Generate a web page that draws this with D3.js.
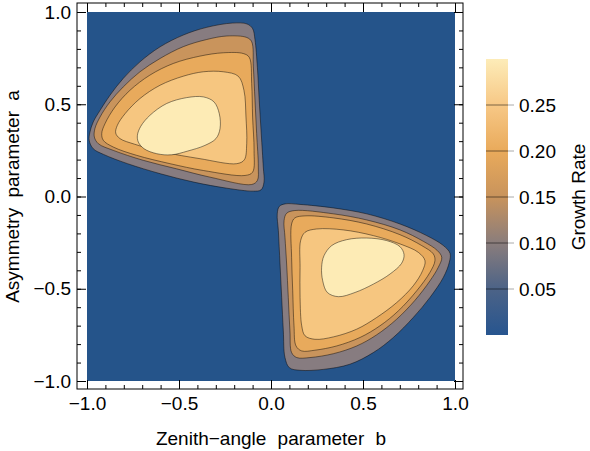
<!DOCTYPE html>
<html>
<head>
<meta charset="utf-8">
<script src="https://cdn.jsdelivr.net/npm/d3@7"></script>
<style>
  body { margin: 0; background: #fff; }
  text { font-family: "Liberation Sans", Arial, sans-serif; fill: #000; }
</style>
</head>
<body>
<div id="chart"></div>
<script>
const levels = [0.05, 0.10, 0.15, 0.20, 0.25];
const bandColors = ["#877c80", "#c9945c", "#e8aa5c", "#f6c680", "#fdebb5"];
const axisTicks = [-1, -0.5, 0, 0.5, 1];
const legendTicks = [0.05, 0.10, 0.15, 0.20, 0.25];
const legendValues = [0, 0.05, 0.10, 0.15, 0.20, 0.25, 0.30];
const legendColors = ["#27558f", "#4c6387", "#8a7d7c", "#c8935c", "#e9aa5b", "#f7c886", "#fdecb8"];

// contour outlines as [b, a]
const upperLeft05 = [[-0.21,0.94],[-0.13,0.935],[-0.10,0.91],[-0.087,0.85],[-0.074,0.70],[-0.064,0.52],[-0.053,0.34],[-0.042,0.16],[-0.038,0.078],[-0.054,0.036],[-0.096,0.029],[-0.24,0.045],[-0.42,0.078],[-0.60,0.123],[-0.78,0.178],[-0.91,0.228],[-0.966,0.259],[-0.988,0.304],[-0.984,0.349],[-0.966,0.404],[-0.929,0.467],[-0.875,0.549],[-0.803,0.64],[-0.712,0.73],[-0.603,0.811],[-0.477,0.875],[-0.349,0.917]];
const upperLeft10 = [[-0.24,0.87],[-0.132,0.862],[-0.105,0.839],[-0.096,0.703],[-0.087,0.522],[-0.078,0.341],[-0.069,0.159],[-0.074,0.087],[-0.105,0.065],[-0.332,0.105],[-0.513,0.15],[-0.694,0.196],[-0.857,0.25],[-0.938,0.286],[-0.96,0.322],[-0.957,0.368],[-0.929,0.431],[-0.875,0.513],[-0.803,0.594],[-0.712,0.676],[-0.603,0.748],[-0.477,0.812],[-0.349,0.851]];
const upperLeft15 = [[-0.259,0.779],[-0.151,0.775],[-0.118,0.754],[-0.105,0.612],[-0.10,0.431],[-0.092,0.25],[-0.10,0.132],[-0.141,0.114],[-0.368,0.141],[-0.549,0.178],[-0.73,0.223],[-0.857,0.268],[-0.911,0.304],[-0.92,0.341],[-0.902,0.395],[-0.848,0.485],[-0.766,0.576],[-0.658,0.658],[-0.531,0.721],[-0.386,0.761]];
const upperLeft20 = [[-0.368,0.676],[-0.259,0.676],[-0.178,0.652],[-0.147,0.576],[-0.136,0.431],[-0.132,0.286],[-0.145,0.199],[-0.186,0.178],[-0.386,0.205],[-0.585,0.241],[-0.74,0.283],[-0.821,0.314],[-0.844,0.344],[-0.835,0.386],[-0.793,0.449],[-0.712,0.531],[-0.603,0.603],[-0.477,0.652]];
const upperLeft25 = [[-0.726,0.332],[-0.708,0.38],[-0.658,0.44],[-0.567,0.504],[-0.458,0.536],[-0.368,0.54],[-0.31,0.513],[-0.281,0.449],[-0.277,0.368],[-0.299,0.314],[-0.359,0.277],[-0.454,0.246],[-0.54,0.226],[-0.621,0.232],[-0.69,0.259],[-0.721,0.295]];

const lowerRight05 = [[0.034,-0.094],[0.045,-0.054],[0.076,-0.04],[0.158,-0.043],[0.339,-0.062],[0.52,-0.094],[0.701,-0.149],[0.846,-0.212],[0.937,-0.266],[0.973,-0.308],[0.969,-0.357],[0.937,-0.438],[0.864,-0.547],[0.773,-0.656],[0.665,-0.764],[0.556,-0.846],[0.429,-0.909],[0.284,-0.937],[0.158,-0.942],[0.10,-0.928],[0.076,-0.873],[0.067,-0.728],[0.058,-0.547],[0.049,-0.366],[0.04,-0.185]];
const lowerRight10 = [[0.071,-0.13],[0.085,-0.091],[0.13,-0.076],[0.339,-0.094],[0.52,-0.127],[0.701,-0.181],[0.828,-0.243],[0.904,-0.293],[0.928,-0.33],[0.909,-0.384],[0.864,-0.457],[0.783,-0.562],[0.683,-0.665],[0.574,-0.75],[0.466,-0.81],[0.339,-0.852],[0.212,-0.873],[0.14,-0.873],[0.112,-0.846],[0.103,-0.728],[0.094,-0.547],[0.085,-0.366],[0.076,-0.221]];
const lowerRight15 = [[0.112,-0.149],[0.13,-0.116],[0.185,-0.105],[0.339,-0.116],[0.52,-0.149],[0.701,-0.207],[0.819,-0.266],[0.882,-0.311],[0.891,-0.348],[0.864,-0.411],[0.792,-0.511],[0.692,-0.62],[0.592,-0.701],[0.484,-0.764],[0.357,-0.81],[0.239,-0.833],[0.167,-0.837],[0.136,-0.81],[0.125,-0.701],[0.118,-0.511],[0.112,-0.33]];
const lowerRight20 = [[0.161,-0.239],[0.185,-0.194],[0.248,-0.176],[0.393,-0.181],[0.556,-0.212],[0.701,-0.257],[0.801,-0.303],[0.837,-0.348],[0.824,-0.402],[0.773,-0.484],[0.683,-0.575],[0.574,-0.656],[0.466,-0.719],[0.339,-0.761],[0.239,-0.774],[0.185,-0.755],[0.167,-0.701],[0.158,-0.547],[0.158,-0.384]];
const lowerRight25 = [[0.275,-0.384],[0.288,-0.321],[0.33,-0.266],[0.411,-0.234],[0.52,-0.225],[0.629,-0.239],[0.701,-0.272],[0.723,-0.315],[0.71,-0.362],[0.647,-0.42],[0.556,-0.475],[0.457,-0.52],[0.366,-0.543],[0.306,-0.52],[0.281,-0.457]];

const contours = [
    { level: 0.05, rings: [upperLeft05, lowerRight05] },
    { level: 0.10, rings: [upperLeft10, lowerRight10] },
    { level: 0.15, rings: [upperLeft15, lowerRight15] },
    { level: 0.20, rings: [upperLeft20, lowerRight20] },
    { level: 0.25, rings: [upperLeft25, lowerRight25] }
];

const width = 590, height = 451;
const frame = { left: 77, top: 3, right: 463, bottom: 389 };
const fontSize = "19px";

const x = d3.scaleLinear().domain([-1, 1]).range([87, 455]);
const y = d3.scaleLinear().domain([-1, 1]).range([381, 12]);
const fillColor = d3.scaleOrdinal().domain(levels).range(bandColors);

const svg = d3.select("#chart")
    .append("svg")
    .attr("width", width)
    .attr("height", height);

// plot background (region below the lowest contour)
svg.append("rect")
    .attr("x", x(-1))
    .attr("y", y(1))
    .attr("width", x(1) - x(-1))
    .attr("height", y(-1) - y(1))
    .attr("fill", "#25548a");

const line = d3.line()
    .x(d => x(d[0]))
    .y(d => y(d[1]))
    .curve(d3.curveCatmullRomClosed.alpha(0.5));

const bands = svg.append("g").attr("class", "contours");
contours.forEach(c => {
    bands.selectAll(null)
        .data(c.rings)
        .enter()
        .append("path")
        .attr("d", line)
        .attr("fill", fillColor(c.level))
        .attr("stroke", "#000")
        .attr("stroke-opacity", 0.5)
        .attr("stroke-width", 0.9);
});

// frame
svg.append("rect")
    .attr("x", frame.left)
    .attr("y", frame.top)
    .attr("width", frame.right - frame.left)
    .attr("height", frame.bottom - frame.top)
    .attr("fill", "none")
    .attr("stroke", "#000")
    .attr("stroke-width", 1);

const fmt = d3.format(".1f");

function frameAxis(axis, pos, transform, major, labels, pad) {
    const g = svg.append("g")
        .attr("transform", transform)
        .call(axis(pos)
            .tickValues(major ? axisTicks : pos.ticks(20))
            .tickSizeInner(major ? -9 : -4)
            .tickSizeOuter(0)
            .tickPadding(pad)
            .tickFormat(labels ? fmt : ""));
    g.select(".domain").remove();
    g.selectAll("line").attr("stroke", "#000");
    g.selectAll("text")
        .style("font-size", fontSize)
        .attr("fill", "#000")
        .style("font-family", "'Liberation Sans', Arial, sans-serif");
    return g;
}

frameAxis(d3.axisBottom, x, `translate(0,${frame.bottom})`, false, false, 8);
frameAxis(d3.axisBottom, x, `translate(0,${frame.bottom})`, true, true, 8);
frameAxis(d3.axisTop, x, `translate(0,${frame.top})`, false, false, 8);
frameAxis(d3.axisTop, x, `translate(0,${frame.top})`, true, false, 8);
frameAxis(d3.axisLeft, y, `translate(${frame.left},0)`, false, false, 6);
frameAxis(d3.axisLeft, y, `translate(${frame.left},0)`, true, true, 6);
frameAxis(d3.axisRight, y, `translate(${frame.right},0)`, false, false, 6);
frameAxis(d3.axisRight, y, `translate(${frame.right},0)`, true, false, 6);

// axis titles
svg.append("text")
    .attr("x", x(0))
    .attr("y", 445)
    .attr("text-anchor", "middle")
    .style("font-size", fontSize)
    .style("word-spacing", "6px")
    .text("Zenith\u2212angle parameter b");

svg.append("text")
    .attr("transform", `translate(19,${y(0)}) rotate(-90)`)
    .attr("text-anchor", "middle")
    .style("font-size", fontSize)
    .style("word-spacing", "5px")
    .text("Asymmetry parameter a");

// legend
const ly = d3.scaleLinear().domain([0, 0.30]).range([335, 59]);
const legendX = 486, legendW = 22;

const grad = svg.append("defs")
    .append("linearGradient")
    .attr("id", "legendGrad")
    .attr("x1", 0).attr("y1", 1)
    .attr("x2", 0).attr("y2", 0);

grad.selectAll("stop")
    .data(legendValues)
    .enter()
    .append("stop")
    .attr("offset", d => d / 0.30)
    .attr("stop-color", (d, i) => legendColors[i]);

svg.append("rect")
    .attr("x", legendX)
    .attr("y", ly(0.30))
    .attr("width", legendW)
    .attr("height", ly(0) - ly(0.30))
    .attr("fill", "url(#legendGrad)");

const lt = svg.append("g").attr("class", "legend-ticks");

lt.selectAll("line.level")
    .data(legendTicks)
    .enter()
    .append("line")
    .attr("class", "level")
    .attr("x1", legendX)
    .attr("x2", legendX + legendW)
    .attr("y1", d => ly(d))
    .attr("y2", d => ly(d))
    .attr("stroke", "#000")
    .attr("stroke-opacity", 0.5)
    .attr("stroke-width", 1);

lt.selectAll("line.tick")
    .data(legendTicks)
    .enter()
    .append("line")
    .attr("class", "tick")
    .attr("x1", legendX + legendW)
    .attr("x2", legendX + legendW + 6)
    .attr("y1", d => ly(d))
    .attr("y2", d => ly(d))
    .attr("stroke", "#aaa")
    .attr("stroke-width", 1);

lt.selectAll("text")
    .data(legendTicks)
    .enter()
    .append("text")
    .attr("x", 519)
    .attr("y", d => ly(d))
    .attr("dy", "0.35em")
    .style("font-size", fontSize)
    .text(d3.format(".2f"));

svg.append("text")
    .attr("transform", `translate(585,${ly(0.15)}) rotate(-90)`)
    .attr("text-anchor", "middle")
    .style("font-size", fontSize)
    .text("Growth Rate");
</script>
</body>
</html>
